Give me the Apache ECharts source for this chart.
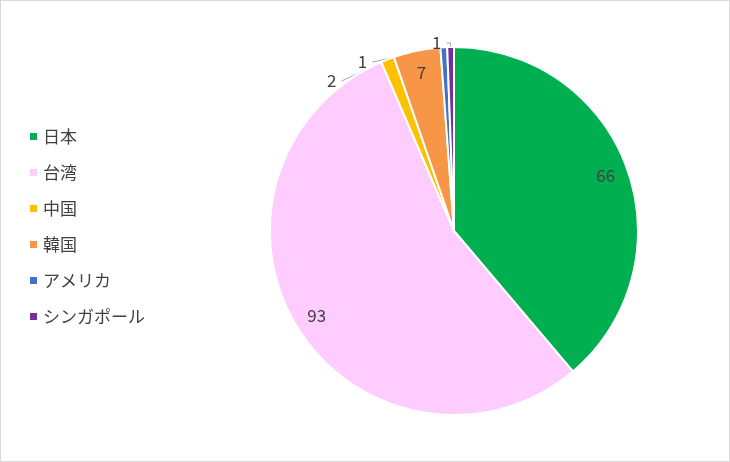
<!DOCTYPE html>
<html>
<head>
<meta charset="utf-8">
<script src="https://cdn.jsdelivr.net/npm/echarts@6/dist/echarts.min.js"></script>
<style>
html, body { margin: 0; padding: 0; background: #fff; }
#chart { width: 728px; height: 460px; border: 1px solid #d9d9d9; }
</style>
</head>
<body>
<div id="chart"></div>
<script>
// 国別データ
var countries = ['日本', '台湾', '中国', '韓国', 'アメリカ', 'シンガポール'];
var counts = [66, 93, 2, 7, 1, 1];
var colors = ['#00b050', '#ffccff', '#ffc000', '#f79646', '#4472c4', '#7030a0'];

var cx = 453, cy = 230;

var pieData = countries.map(function (name, i) {
    var item = { name: name, value: counts[i], itemStyle: { color: colors[i] } };
    if (counts[i] < 5) {
        item.label = { position: 'outside' };
    }
    return item;
});

var chart = echarts.init(document.getElementById('chart'));
var option = {
    animation: false,
    legend: {
        orient: 'vertical',
        left: 22,
        top: 122,
        itemGap: 19,
        itemWidth: 9,
        itemHeight: 9,
        icon: 'rect',
        textStyle: { fontSize: 17, color: '#404040', fontFamily: 'Noto Sans CJK JP' },
        data: countries
    },
    series: [
        {
            type: 'pie',
            center: [cx, cy],
            radius: 184,
            startAngle: 90,
            clockwise: true,
            itemStyle: { borderColor: '#fff', borderWidth: 2 },
            label: {
                show: true,
                position: 'inside',
                formatter: '{c}',
                fontSize: 17,
                color: '#404040',
                fontFamily: 'Noto Sans CJK JP'
            },
            labelLine: { show: true, length: 4, length2: 4, lineStyle: { color: '#a6a6a6' } },
            labelLayout: function (p) {
                // 内側ラベルを外寄りに
                if (p.labelLinePoints) return {};
                var lx = p.labelRect.x + p.labelRect.width / 2;
                var ly = p.labelRect.y + p.labelRect.height / 2;
                return {
                    x: cx + (lx - cx) * 1.7,
                    y: cy + (ly - cy) * 1.7,
                    align: 'center',
                    verticalAlign: 'middle'
                };
            },
            data: pieData
        }
    ]
};
chart.setOption(option);
</script>
</body>
</html>
